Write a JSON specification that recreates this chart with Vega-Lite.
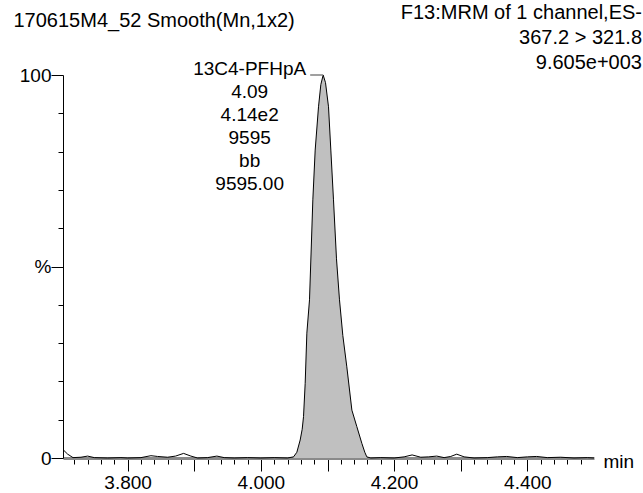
{
  "$schema": "https://vega.github.io/schema/vega-lite/v6.json",
  "width": 531,
  "height": 383,
  "autosize": {"type": "none"},
  "padding": {"left": 63, "top": 75, "right": 49, "bottom": 35},
  "background": "white",
  "config": {
    "view": {"stroke": null},
    "font": "Liberation Sans",
    "axis": {"grid": false, "domainColor": "black", "tickColor": "black", "labelColor": "black", "titleColor": "black", "labelFont": "Liberation Sans", "titleFont": "Liberation Sans"}
  },
  "title": {
    "text": ["F13:MRM of 1 channel,ES-", "367.2 > 321.8", "9.605e+003"],
    "anchor": "end",
    "frame": "group",
    "align": "right",
    "fontSize": 20,
    "fontWeight": "normal",
    "font": "Liberation Sans",
    "lineHeight": 25,
    "color": "black",
    "dx": 48,
    "dy": 67,
    "offset": 4
  },
  "datasets": {
    "trace": [
      {"t": 3.703, "pct": 2.2}, {"t": 3.71, "pct": 1.0}, {"t": 3.718, "pct": 0.1}, {"t": 3.73, "pct": 0.2},
      {"t": 3.74, "pct": 0.5}, {"t": 3.75, "pct": 0.1}, {"t": 3.77, "pct": 0.0}, {"t": 3.79, "pct": 0.1},
      {"t": 3.80, "pct": 0.0}, {"t": 3.82, "pct": 0.1}, {"t": 3.835, "pct": 0.6}, {"t": 3.845, "pct": 0.4},
      {"t": 3.86, "pct": 0.2}, {"t": 3.872, "pct": 0.5}, {"t": 3.884, "pct": 1.2}, {"t": 3.895, "pct": 0.5},
      {"t": 3.905, "pct": 0.0}, {"t": 3.92, "pct": 0.1}, {"t": 3.934, "pct": 0.5}, {"t": 3.945, "pct": 0.1},
      {"t": 3.96, "pct": 0.0}, {"t": 3.98, "pct": 0.1}, {"t": 4.0, "pct": 0.0}, {"t": 4.02, "pct": 0.1},
      {"t": 4.04, "pct": 0.0}, {"t": 4.049, "pct": 0.3}, {"t": 4.054, "pct": 1.5}, {"t": 4.059, "pct": 4.7},
      {"t": 4.062, "pct": 7.5}, {"t": 4.064, "pct": 10.8}, {"t": 4.0665, "pct": 19.5}, {"t": 4.069, "pct": 32.6},
      {"t": 4.073, "pct": 41.3}, {"t": 4.078, "pct": 67.4}, {"t": 4.0815, "pct": 80.4}, {"t": 4.0865, "pct": 91.7},
      {"t": 4.090, "pct": 97.5}, {"t": 4.0935, "pct": 100}, {"t": 4.097, "pct": 98}, {"t": 4.1015, "pct": 91.7},
      {"t": 4.105, "pct": 80.4}, {"t": 4.109, "pct": 67.4}, {"t": 4.1135, "pct": 52}, {"t": 4.118, "pct": 41.3},
      {"t": 4.123, "pct": 32}, {"t": 4.129, "pct": 23.8}, {"t": 4.1366, "pct": 12.5}, {"t": 4.144, "pct": 8.2},
      {"t": 4.1516, "pct": 3.8}, {"t": 4.156, "pct": 1.5}, {"t": 4.159, "pct": 0.3}, {"t": 4.165, "pct": 0.0},
      {"t": 4.18, "pct": 0.1}, {"t": 4.2, "pct": 0.0}, {"t": 4.215, "pct": 0.3}, {"t": 4.227, "pct": 0.8},
      {"t": 4.24, "pct": 0.2}, {"t": 4.252, "pct": 0.3}, {"t": 4.264, "pct": 0.5}, {"t": 4.275, "pct": 0.1},
      {"t": 4.285, "pct": 0.4}, {"t": 4.294, "pct": 1.0}, {"t": 4.305, "pct": 0.3}, {"t": 4.32, "pct": 0.0},
      {"t": 4.34, "pct": 0.1}, {"t": 4.355, "pct": 0.3}, {"t": 4.369, "pct": 0.4}, {"t": 4.385, "pct": 0.1},
      {"t": 4.40, "pct": 0.3}, {"t": 4.414, "pct": 0.4}, {"t": 4.43, "pct": 0.1}, {"t": 4.45, "pct": 0.2},
      {"t": 4.47, "pct": 0.0}, {"t": 4.49, "pct": 0.1}, {"t": 4.5, "pct": 0.0}
    ],
    "peak": [
      {"t": 4.0935, "pct": 100, "label": "13C4-PFHpA\n4.09\n4.14e2\n9595\nbb\n9595.00"}
    ]
  },
  "data": {"name": "trace"},
  "encoding": {
    "x": {
      "field": "t",
      "type": "quantitative",
      "scale": {"domain": [3.703, 4.5], "nice": false, "zero": false},
      "axis": {
        "values": [3.72, 3.74, 3.76, 3.78, 3.8, 3.82, 3.84, 3.86, 3.88, 3.9, 3.92, 3.94, 3.96, 3.98, 4.0, 4.02, 4.04, 4.06, 4.08, 4.1, 4.12, 4.14, 4.16, 4.18, 4.2, 4.22, 4.24, 4.26, 4.28, 4.3, 4.32, 4.34, 4.36, 4.38, 4.4, 4.42, 4.44, 4.46, 4.48],
        "tickSize": {"condition": {"test": "abs(datum.value*10 - round(datum.value*10)) < 0.001", "value": 13}, "value": 6},
        "labelExpr": "abs(datum.value*5 - round(datum.value*5)) < 0.001 ? format(datum.value, '.3f') : ''",
        "labelOverlap": false,
        "labelFlush": false,
        "labelFontSize": 19,
        "labelPadding": 2,
        "domainColor": "#8a8a8a",
        "domainWidth": 3,
        "title": "min",
        "titleFontSize": 19,
        "titleFontWeight": "normal",
        "titleAlign": "left",
        "titleAnchor": "start",
        "titleBaseline": "alphabetic",
        "titleX": 540,
        "titleY": 9
      }
    },
    "y": {
      "field": "pct",
      "type": "quantitative",
      "scale": {"domain": [0, 100], "nice": false},
      "axis": {
        "values": [0, 10, 20, 30, 40, 50, 60, 70, 80, 90, 100],
        "tickSize": {"condition": {"test": "datum.value % 50 == 0", "value": 12}, "value": 5},
        "labelExpr": "datum.value == 100 ? '100' : datum.value == 50 ? '%' : datum.value == 0 ? '0' : ''",
        "labelOverlap": false,
        "labelFlush": false,
        "labelFontSize": 19,
        "labelPadding": 0,
        "title": "170615M4_52 Smooth(Mn,1x2)",
        "titleAngle": 0,
        "titleFontSize": 20,
        "titleFontWeight": "normal",
        "titleAlign": "left",
        "titleAnchor": "start",
        "titleBaseline": "alphabetic",
        "titleX": -50,
        "titleY": -49
      }
    }
  },
  "layer": [
    {
      "transform": [{"filter": "datum.t >= 4.049 && datum.t <= 4.159"}],
      "mark": {"type": "area", "color": "#c0c0c0", "opacity": 1}
    },
    {
      "mark": {"type": "line", "color": "black", "strokeWidth": 1}
    },
    {
      "data": {"name": "peak"},
      "mark": {"type": "rule", "color": "#808080", "strokeWidth": 1.5, "xOffset": -13},
      "encoding": {"x2": {"field": "t"}}
    },
    {
      "data": {"name": "peak"},
      "mark": {"type": "text", "lineBreak": "\n", "align": "center", "baseline": "alphabetic", "dx": -73.5, "fontSize": 19, "lineHeight": 23, "color": "black", "font": "Liberation Sans"},
      "encoding": {"text": {"field": "label"}}
    }
  ]
}
